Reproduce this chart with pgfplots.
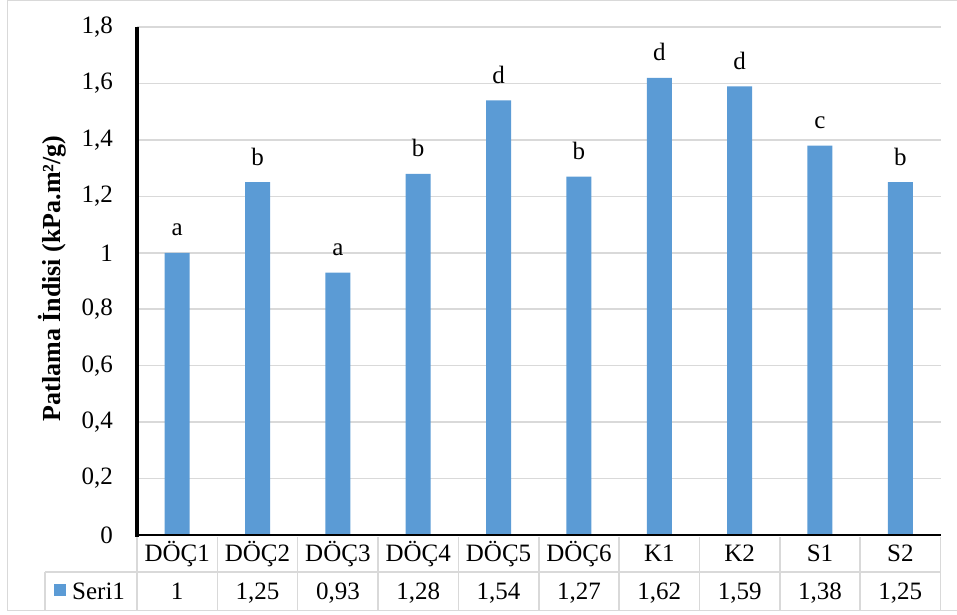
\documentclass[border=0pt]{standalone}
\usepackage{fontspec}
\setmainfont{Liberation Serif}
\usepackage{pgfplots}
\usepackage{pgfplotstable}
\pgfplotsset{compat=1.18}
\definecolor{barblue}{HTML}{5B9BD5}
\definecolor{gridgray}{HTML}{D9D9D9}
\pgfplotstableread{
x y lab
0 1.00 a
1 1.25 b
2 0.93 a
3 1.28 b
4 1.54 d
5 1.27 b
6 1.62 d
7 1.59 d
8 1.38 c
9 1.25 b
}\data
\newcommand\fs{\fontsize{25}{30}\selectfont}
\newcommand\fl{\fontsize{26}{31}\selectfont}
\begin{document}
\begin{tikzpicture}[x=1pt,y=1pt]
\useasboundingbox (0,0) rectangle (957,614);
% outer frame and data table grid
\begin{scope}[gridgray, line width=1.5pt]
\foreach \k in {0,...,10} \draw ({137+80.35*\k},77) -- ({137+80.35*\k},4);
\draw (45,42) -- (940.5,42);
\draw (45,42) -- (45,4);
\end{scope}
\begin{scope}[gridgray, line width=1pt]
\draw (7,4) -- (957,4);
\draw (7,4) -- (7,613.5);
\draw (7,613.5) -- (957,613.5);
\end{scope}
\fill[barblue] (54,18) rectangle (66,30);
\node[anchor=base west, inner sep=0pt, font=\fs] at (72,15) {Seri1};
\begin{axis}[
  at={(137pt,79pt)}, anchor=south west,
  scale only axis, width=803.5pt, height=508pt,
  xmin=-0.5, xmax=9.5, ymin=0, ymax=1.8,
  xtick={0,...,9},
  xticklabels={DÖÇ1,DÖÇ2,DÖÇ3,DÖÇ4,DÖÇ5,DÖÇ6,K1,K2,S1,S2},
  xticklabel style={font=\fs, anchor=base, inner sep=0pt, yshift=-26pt},
  ytick={0,0.2,0.4,0.6,0.8,1,1.2,1.4,1.6,1.8},
  yticklabel style={font=\fs, anchor=east, inner sep=0pt, xshift=-24pt},
  /pgf/number format/use comma,
  /pgf/number format/fixed,
  /pgf/number format/precision=2,
  /pgf/number format/assume math mode=true,
  major tick length=0pt,
  ymajorgrids,
  major grid style={gridgray, line width=1.5pt},
  axis line style={draw=none},
  clip=false,
  every axis y label/.style={at={(axis description cs:-0.1058,0.505)}, rotate=90, anchor=center, font=\fl\bfseries},
  ylabel={Patlama İndisi (kPa.m²/g)},
]
\addplot[ybar, bar width=25pt, fill=barblue, draw=none,
  nodes near coords, point meta=explicit symbolic,
  every node near coord/.style={font=\fs, anchor=base, inner sep=0pt, yshift=17pt}]
  table[x=x, y=y, meta=lab] {\data};
\addplot[draw=none, mark=none, nodes near coords, point meta=\thisrow{y},
  every node near coord/.style={font=\fs, anchor=base, inner sep=0pt, text=black}]
  table[x=x, y expr=-0.2268] {\data};
\draw[black, line width=2pt] (axis cs:-0.5,0) -- (axis cs:9.5,0);
\draw[black, line width=3.5pt] (axis cs:-0.5,1.8) -- (axis cs:-0.5,-0.008);
\end{axis}
\end{tikzpicture}
\end{document}
